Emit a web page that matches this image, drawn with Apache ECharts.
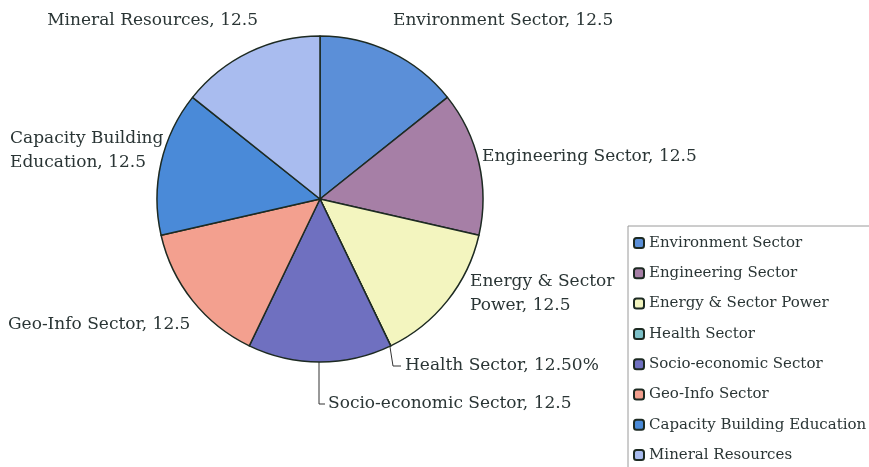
<!DOCTYPE html>
<html>
<head>
<meta charset="utf-8">
<script src="https://cdn.jsdelivr.net/npm/echarts@6/dist/echarts.min.js"></script>
<style>
html,body{margin:0;padding:0;background:#fff;overflow:hidden;}
#c{width:869px;height:467px;}
</style>
</head>
<body>
<div id="c"></div>
<script>
const categories = ['Environment Sector','Engineering Sector','Energy & Sector Power','Health Sector','Socio-economic Sector','Geo-Info Sector','Capacity Building Education','Mineral Resources'];
// drawn slice sizes (Health slice is drawn with no width)
const values = [12.5, 12.5, 12.5, 0, 12.5, 12.5, 12.5, 12.5];
// value texts printed in the data labels
const labelValues = ['12.5','12.5','12.5','12.50%','12.5','12.5','12.5','12.5'];
const labelNames = ['Environment Sector','Engineering Sector','Energy & Sector\nPower','Health Sector','Socio-economic Sector','Geo-Info Sector','Capacity Building\nEducation','Mineral Resources'];
const colors = ['#5b8fd8','#a67fa6','#f3f5bf','#7cc0c8','#6f70c0','#f3a08f','#4a8ad8','#a9bcef'];

const labelPos = [
  {x:393,y:21,a:'left'},{x:482,y:157,a:'left'},{x:470,y:294,a:'left'},{x:405,y:366,a:'left'},
  {x:328,y:404,a:'left'},{x:8,y:325,a:'left'},{x:10,y:151,a:'left'},{x:258,y:21,a:'right'}
];
const leaders = {
  3: [[390,347],[393,366],[401,366]],
  4: [[319,362],[319,404],[325,404]]
};

const chart = echarts.init(document.getElementById('c'));
const font = 'DejaVu Serif';
chart.setOption({
  animation:false,
  color: colors,
  legend:{
    orient:'vertical',
    left:628, top:226, height:300, width:300,
    itemWidth:10, itemHeight:10, itemGap:12.3,
    icon:'roundRect',
    borderColor:'#9a9a9a', borderWidth:1,
    padding:[8,60,40,5],
    textStyle:{fontFamily:font, fontSize:15, color:'#2a3535', lineHeight:18},
    data: categories
  },
  series:[{
    type:'pie',
    center:[320,199],
    radius:163,
    startAngle:90,
    clockwise:true,
    avoidLabelOverlap:false,
    stillShowZeroSum:true,
    itemStyle:{borderColor:'#1d2a22', borderWidth:1.5},
    label:{
      show:true, position:'outside',
      fontFamily:font, fontSize:17, color:'#2a3535', lineHeight:24,
      formatter: p => labelNames[p.dataIndex] + ', ' + labelValues[p.dataIndex]
    },
    labelLine:{show:false, lineStyle:{color:'#333', width:1}},
    labelLayout: p => {
      const pos = labelPos[p.dataIndex];
      const r = {x:pos.x, y:pos.y, align:pos.a, verticalAlign:'middle'};
      if (leaders[p.dataIndex]) r.labelLinePoints = leaders[p.dataIndex];
      return r;
    },
    emphasis:{disabled:true},
    data: categories.map((c,i)=>({
      name:c, value:values[i],
      labelLine:{show: !!leaders[i]}
    }))
  }]
});
</script>
</body>
</html>
